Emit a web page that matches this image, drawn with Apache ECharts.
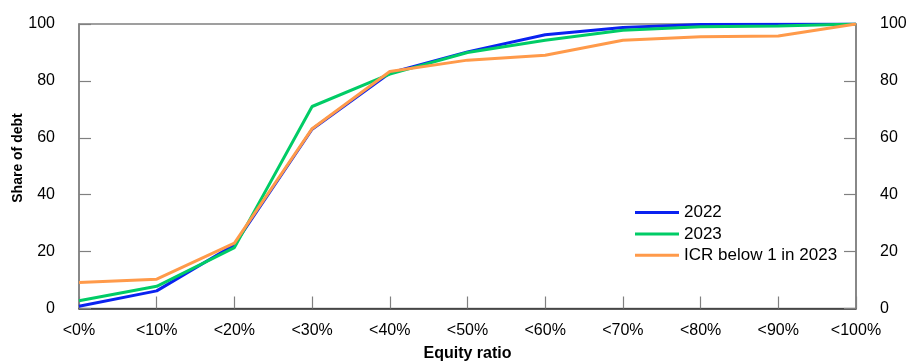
<!DOCTYPE html>
<html>
<head>
<meta charset="utf-8">
<script src="https://cdn.jsdelivr.net/npm/echarts@6/dist/echarts.min.js"></script>
<style>html,body{margin:0;padding:0;background:#fff}#c{width:910px;height:363px}</style>
</head>
<body>
<div id="c"></div>
<script>
const categories = ['<0%','<10%','<20%','<30%','<40%','<50%','<60%','<70%','<80%','<90%','<100%'];
const s2022 = [0.8, 6.2, 22.4, 63, 82.8, 90.2, 96.2, 98.8, 99.8, 99.9, 100];
const s2023 = [2.7, 7.8, 21.4, 71, 82.4, 90.0, 94.3, 97.8, 99.0, 99.3, 100];
const sICR  = [9.1, 10.3, 23.0, 63.2, 83.3, 87.3, 89.0, 94.3, 95.5, 95.8, 100];
const seriesNames = ['2022', '2023', 'ICR below 1 in 2023'];
const colors = ['#0a22f0', '#00cc66', '#ff9a4a'];
const yTicks = [0, 20, 40, 60, 80, 100];

const chart = echarts.init(document.getElementById('c'), null, {renderer: 'canvas'});
const font = 'Liberation Sans, Arial, Helvetica, sans-serif';
const yAxisCommon = {
  type: 'value', min: yTicks[0], max: yTicks[yTicks.length - 1], interval: 20,
  axisLine: {show: true, lineStyle: {color: '#808080', width: 1.5}},
  axisTick: {show: true, inside: true, length: 12, lineStyle: {color: '#808080', width: 1.2}},
  axisLabel: {color: '#000', fontSize: 16, fontFamily: font, margin: 24},
  splitLine: {show: false}
};
chart.setOption({
  animation: false,
  color: colors,
  grid: {left: 79, right: 54, top: 24, bottom: 54.5, show: true, borderColor: '#808080', borderWidth: 1.5,
         containLabel: false, outerBoundsMode: 'none'},
  legend: {
    orient: 'vertical', left: 635, top: 204, padding: 0, itemWidth: 44, itemHeight: 3, itemGap: 4.4,
    icon: 'rect',
    textStyle: {color: '#000', fontSize: 17, fontFamily: font},
    data: seriesNames
  },
  xAxis: {
    type: 'category', data: categories, boundaryGap: false,
    name: 'Equity ratio', nameLocation: 'middle', nameGap: 37,
    nameTextStyle: {color: '#000', fontSize: 16, fontWeight: 'bold', fontFamily: font},
    axisLine: {show: true, lineStyle: {color: '#333', width: 1.5}},
    axisTick: {show: true, inside: true, length: 12, alignWithLabel: true, lineStyle: {color: '#808080', width: 1.2}},
    axisLabel: {color: '#000', fontSize: 16, fontFamily: font, margin: 14, interval: 0},
    splitLine: {show: false}
  },
  yAxis: [
    Object.assign({position: 'left'}, yAxisCommon),
    Object.assign({position: 'right'}, yAxisCommon)
  ],
  graphic: [{
    type: 'text', x: 18, y: 158, rotation: Math.PI / 2,
    style: {text: 'Share of debt', fill: '#000', font: 'bold 14px ' + font, textAlign: 'center', textVerticalAlign: 'middle'}
  }],
  series: [
    {name: seriesNames[0], type: 'line', data: s2022, symbol: 'none', lineStyle: {width: 3, color: colors[0]}, z: 2},
    {name: seriesNames[1], type: 'line', data: s2023, symbol: 'none', lineStyle: {width: 3, color: colors[1]}, z: 3},
    {name: seriesNames[2], type: 'line', data: sICR, symbol: 'none', lineStyle: {width: 3, color: colors[2]}, z: 4}
  ]
});
</script>
</body>
</html>
